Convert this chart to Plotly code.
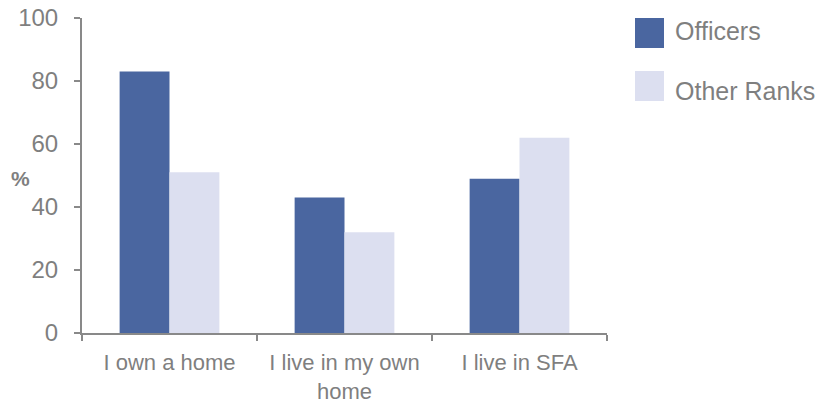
import plotly.graph_objects as go

categories = ["I own a home", "I live in my own<br>home", "I live in SFA"]
officers = [83, 43, 49]
other_ranks = [51, 32, 62]
series_names = ["Officers", "Other Ranks"]
series_colors = ["#4A66A0", "#DCDFF0"]
y_ticks = [0, 20, 40, 60, 80, 100]

W, H = 827, 403
ml, mr, mt, mb = 82, 220, 18, 70
pw, ph = W - ml - mr, H - mt - mb

def px_x(x):
    return (x - ml) / pw

def px_y(y):
    return (H - mb - y) / ph

font_color = "#7f7f7f"
axis_color = "#898989"
FONT = "Liberation Sans, Arial, sans-serif"

fig = go.Figure()
for name, vals, col in zip(series_names, [officers, other_ranks], series_colors):
    fig.add_trace(go.Bar(x=categories, y=vals, name=name, marker_color=col,
                         marker_line_width=0, showlegend=False))

fig.update_layout(
    width=W, height=H,
    margin=dict(l=ml, r=mr, t=mt, b=mb, pad=0),
    paper_bgcolor="white", plot_bgcolor="white",
    barmode="group", bargap=0.43, bargroupgap=0,
    font=dict(family=FONT, size=22, color=font_color),
    xaxis=dict(
        type="category", range=[-0.5, 2.5], automargin=False,
        showline=True, linecolor=axis_color, linewidth=2,
        ticks="outside", tickson="boundaries", ticklen=6, tickwidth=2, tickcolor=axis_color,
        showgrid=False, zeroline=False,
        ticklabelstandoff=9,
        tickfont=dict(family=FONT, size=22, color=font_color),
    ),
    yaxis=dict(
        range=[0, 100], tickvals=y_ticks, automargin=False,
        showline=True, linecolor=axis_color, linewidth=2,
        ticks="outside", ticklen=6, tickwidth=2, tickcolor=axis_color,
        showgrid=False, zeroline=False,
        ticklabelstandoff=11,
        tickfont=dict(family=FONT, size=24, color=font_color),
    ),
)

# % axis title
fig.add_annotation(text="<b>%</b>", xref="paper", yref="paper",
                   x=px_x(20), y=px_y(178), xanchor="center", yanchor="middle",
                   showarrow=False, font=dict(family=FONT, size=21, color=font_color))

# custom legend
legend_rows = [(18, 48, 31), (71, 101, 91)]
for (y0, y1, yc), name, col in zip(legend_rows, series_names, series_colors):
    fig.add_shape(type="rect", xref="paper", yref="paper",
                  x0=px_x(635), x1=px_x(664), y0=px_y(y1), y1=px_y(y0),
                  fillcolor=col, line_width=0)
    fig.add_annotation(text=name, xref="paper", yref="paper",
                       x=px_x(673), y=px_y(yc), xanchor="left", yanchor="middle",
                       showarrow=False, font=dict(family=FONT, size=25, color=font_color))

fig.write_html("out.html")
